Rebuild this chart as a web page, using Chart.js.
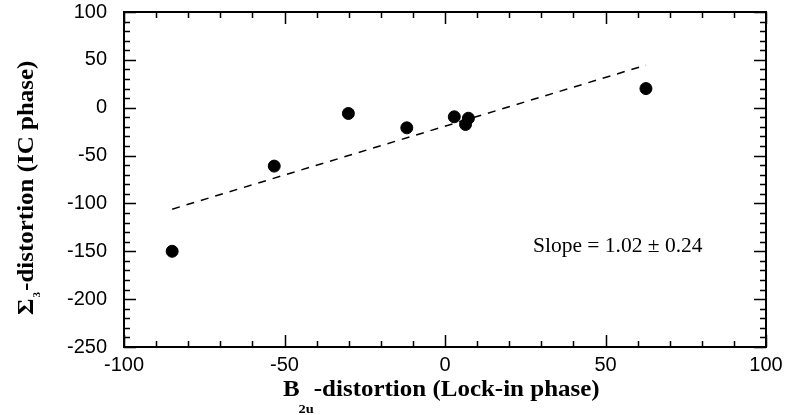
<!DOCTYPE html>
<html>
<head>
<meta charset="utf-8">
<script src="https://cdn.jsdelivr.net/npm/chart.js@4/dist/chart.umd.min.js"></script>
<style>
  html, body { margin: 0; padding: 0; background: #fff; }
  #wrap { width: 785px; height: 415px; position: relative; }
</style>
</head>
<body>
<div id="wrap"><canvas id="chart"></canvas></div>
<script>
  // measured points (B2u vs Sigma3 distortion)
  const pointX = [-85, -53.2, -30.1, -11.9, 2.9, 6.4, 7.3, 62.6];
  const pointY = [-150, -61, -6, -21, -9.5, -17.5, -11, 20];

  // least-squares fit line, end points
  const fitX = [-85, 62.6];
  const fitY = [-106, 44.5];

  const xRange = [-100, 100];
  const yRange = [-250, 100];
  const slopeNote = "Slope = 1.02 \u00b1 0.24";
  const notePos = { x: 27.4, y: -145 };

  const serif = "'Liberation Serif', 'Times New Roman', serif";
  const tickFont = { family: "'Liberation Sans', Arial, sans-serif", size: 20 };
  const titleFont = "bold 22.5px " + serif;
  const titleStretch = 1.11; // the original bold serif is a bit wider

  // draws text pieces left to right, each with its own font and baseline shift
  function drawPieces(ctx, pieces, x, y) {
    ctx.save();
    ctx.translate(x, y);
    ctx.scale(titleStretch, 1);
    let cx = 0;
    for (const p of pieces) {
      ctx.font = p.font;
      ctx.fillText(p.text, cx, p.dy || 0);
      cx += ctx.measureText(p.text).width + (p.gap || 0);
    }
    ctx.restore();
  }

  // inside ticks on all four sides, the frame, note and axis titles
  const framePlugin = {
    id: "frame",
    beforeDatasetsDraw(chart) {
      const { ctx, chartArea: a, scales } = chart;
      const x = scales.x, y = scales.y;
      ctx.save();
      ctx.strokeStyle = "#000";
      ctx.lineWidth = 1.5;
      ctx.beginPath();
      for (let v = xRange[0]; v <= xRange[1]; v += 10) {
        const px = Math.round(x.getPixelForValue(v)) + 0.5;
        const len = v % 50 === 0 ? 12 : 6;
        ctx.moveTo(px, a.bottom); ctx.lineTo(px, a.bottom - len);
        ctx.moveTo(px, a.top); ctx.lineTo(px, a.top + len);
      }
      for (let v = yRange[0]; v <= yRange[1]; v += 10) {
        const py = Math.round(y.getPixelForValue(v)) + 0.5;
        const len = v % 50 === 0 ? 12 : 6;
        ctx.moveTo(a.left, py); ctx.lineTo(a.left + len, py);
        ctx.moveTo(a.right, py); ctx.lineTo(a.right - len, py);
      }
      ctx.stroke();
      ctx.lineWidth = 2;
      ctx.strokeRect(a.left, a.top, a.right - a.left, a.bottom - a.top);
      ctx.restore();
    },
    afterDraw(chart) {
      const { ctx, scales } = chart;
      ctx.save();
      ctx.fillStyle = "#000";

      ctx.font = "21.5px " + serif;
      ctx.textBaseline = "middle";
      ctx.textAlign = "left";
      ctx.fillText(slopeNote, scales.x.getPixelForValue(notePos.x), scales.y.getPixelForValue(notePos.y));

      ctx.textBaseline = "alphabetic";
      drawPieces(ctx, [
        { text: "B", font: titleFont, gap: -1 },
        { text: "2u", font: "bold 13px " + serif, dy: 17, gap: 0 },
        { text: "-distortion (Lock-in phase)", font: titleFont },
      ], 283, 396);

      ctx.translate(33, 0);
      ctx.rotate(-Math.PI / 2);
      drawPieces(ctx, [
        { text: "\u03a3", font: titleFont, gap: 1 },
        { text: "3", font: "bold 10px " + serif, dy: 7, gap: 1 },
        { text: "-distortion (IC phase)", font: titleFont },
      ], -315, 0);
      ctx.restore();
    },
  };

  new Chart(document.getElementById("chart"), {
    type: "scatter",
    data: {
      datasets: [
        {
          data: pointX.map((v, i) => ({ x: v, y: pointY[i] })),
          backgroundColor: "#000",
          borderColor: "#000",
          pointRadius: 6,
          pointHoverRadius: 6,
        },
        {
          data: fitX.map((v, i) => ({ x: v, y: fitY[i] })),
          showLine: true,
          borderColor: "#000",
          borderWidth: 1.5,
          borderDash: [8, 7],
          pointRadius: 0,
          fill: false,
        },
      ],
    },
    options: {
      responsive: true,
      maintainAspectRatio: false,
      animation: false,
      layout: { padding: { top: 12, right: 19, left: 0, bottom: 0 } },
      plugins: { legend: { display: false }, tooltip: { enabled: false } },
      scales: {
        x: {
          type: "linear",
          min: xRange[0],
          max: xRange[1],
          grid: { display: false, drawTicks: false },
          border: { display: false },
          ticks: { stepSize: 50, color: "#000", font: tickFont, padding: 6, maxRotation: 0 },
          afterFit: (scale) => {
            scale.height = 68;
            scale.paddingLeft = 0;
            scale.paddingRight = 0;
          },
        },
        y: {
          type: "linear",
          min: yRange[0],
          max: yRange[1],
          grid: { display: false, drawTicks: false },
          border: { display: false },
          ticks: { stepSize: 50, color: "#000", font: tickFont, padding: 17 },
          afterFit: (scale) => {
            scale.width = 124;
            scale.paddingTop = 0;
            scale.paddingBottom = 0;
          },
        },
      },
    },
    plugins: [framePlugin],
  });
</script>
</body>
</html>
